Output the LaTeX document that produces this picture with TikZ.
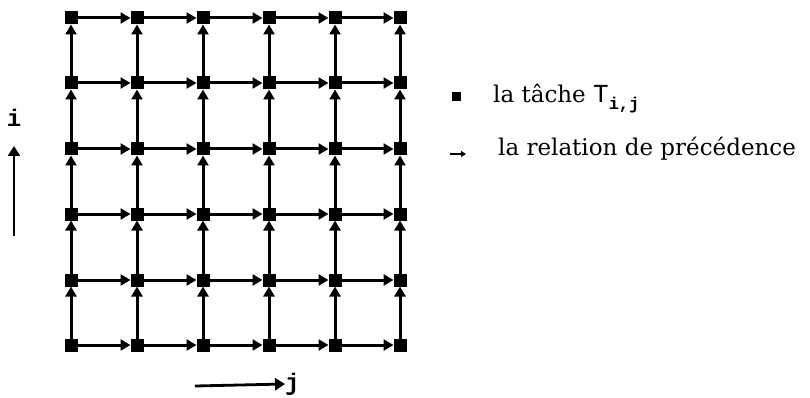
\documentclass[tikz,border=0pt]{standalone}
\usepackage{fontspec}
\setmainfont{DejaVu Serif}
\newfontfamily\monof{Liberation Mono}
\usetikzlibrary{arrows.meta}
\tikzset{
  task/.style={fill=black, minimum size=13pt, inner sep=0pt, outer sep=0pt},
  prec/.style={-{Triangle[length=10pt,width=11pt]}, line width=3pt},
  axis/.style={-{Triangle[length=10pt,width=12pt]}, line width=2.8pt},
  legtext/.style={anchor=base west, inner sep=0pt, font=\fontsize{23}{27}\selectfont},
  monolab/.style={inner sep=0pt, font=\monof\bfseries\fontsize{24}{24}\selectfont}
}
\begin{document}
\begin{tikzpicture}[x=1pt,y=-1pt]
\useasboundingbox (0,0) rectangle (810,398);
\foreach \r/\y in {1/18,2/83,3/149,4/214,5/280,6/345}
  \foreach \k/\x in {1/71,2/137,3/203,4/269,5/335,6/400}
    \node[task] (n-\r-\k) at (\x,\y) {};
\foreach \r in {1,2,3,4,5,6}{
  \foreach \k/\kk in {1/2,2/3,3/4,4/5,5/6}{
    \draw[prec] (n-\r-\k) -- (n-\r-\kk);
  }
}
\foreach \r/\rr in {1/2,2/3,3/4,4/5,5/6}{
  \foreach \k in {1,2,3,4,5,6}{
    \draw[prec] (n-\rr-\k) -- (n-\r-\k);
  }
}
% axis i
\node[monolab] (ilab) at (14,118) {i};
\coordinate (ibot) at (14,236);
\coordinate (itop) at (14,146);
\draw[axis] (ibot) -- (itop);
% axis j
\coordinate (jstart) at (195,386);
\node[monolab, anchor=west] (jlab) at (285,384) {j};
\draw[axis] (jstart) -- (jlab.west);
% legend
\node[task, minimum size=9pt] (lsq) at (456,97) {};
\node[legtext] (l1) at (493,103) {la tâche {\monof\fontsize{26}{26}\selectfont T}\raisebox{-7pt}{\monof\bfseries\fontsize{17}{17}\selectfont i,j}};
\coordinate (la1) at (450,154);
\coordinate (la2) at (466,154);
\draw[-{Triangle[length=5pt,width=6pt]}, line width=1.5pt] (la1) -- (la2);
\node[legtext] (l2) at (498,156) {la relation de précédence};
\end{tikzpicture}
\end{document}
